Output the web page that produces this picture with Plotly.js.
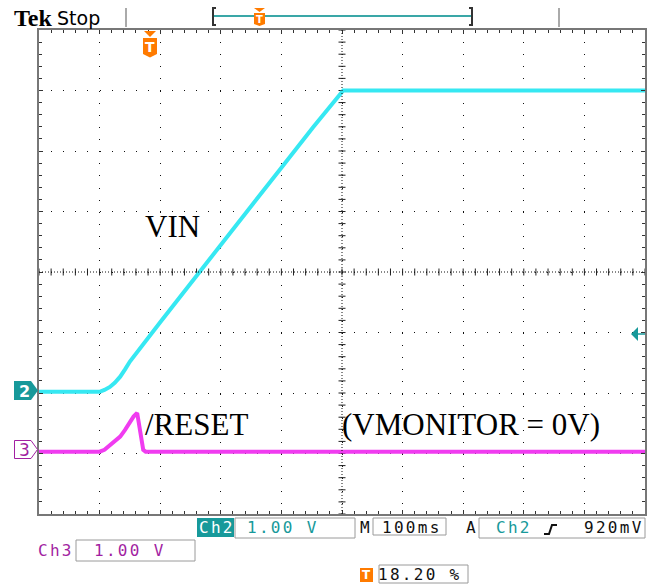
<!DOCTYPE html>
<html><head><meta charset="utf-8">
<script src="https://cdn.plot.ly/plotly-3.0.1.min.js"></script>
<style>html,body{margin:0;padding:0;background:#fff}#chart{width:654px;height:586px}</style>
</head><body><div id="chart"></div>
<script>
// ---- Data read from the scope capture ----
// Channel 2: VIN (volts) vs time (ms)
const ch2TimeMs = [0, 100, 108, 117, 125, 134, 142, 150, 200, 279, 337, 398, 452, 502, 1000];
const ch2Volts  = [0, 0, 0.03, 0.08, 0.15, 0.25, 0.37, 0.50, 1.15, 2.17, 2.90, 3.68, 4.37, 4.98, 4.98];
// Channel 3: /RESET (volts) vs time (ms)
const ch3TimeMs = [0, 100, 108, 117, 125, 134, 142, 150, 156, 162, 165, 169, 172, 176, 1000];
const ch3Volts  = [0, 0, 0.03, 0.10, 0.17, 0.25, 0.36, 0.50, 0.58, 0.64, 0.45, 0.15, 0.03, 0, 0];
// Scope settings
const ch2VoltsPerDiv = 1.0, ch2OffsetDiv = -1.98;
const ch3VoltsPerDiv = 1.0, ch3OffsetDiv = -2.97;
const timePerDivMs = 100;
const triggerLevelV = 0.92;
const labels = {vin: 'VIN', reset: '/RESET', note: '(VMONITOR = 0V)'};

// ---- Layout helpers (pixel -> paper) ----
const L = 39, R = 645, T = 30, B = 514;
const px = x => (x - L) / (R - L);
const py = y => (B - y) / (B - T);
const TEAL = '#17999a', CYAN = '#36e8f2', MAG = '#f03cf0', PURP = '#a21fa2', ORANGE = '#ff7b00';
const UI = 'DejaVu Sans Mono, monospace';
const sp = s => '<span style="letter-spacing:2.3px">' + s + '</span>';

// center-cross tick decoration (every 1/5 division)
const cxX = [], cxY = [], cyX = [], cyY = [];
for (let k = 0; k <= 50; k++) { cxX.push(k * timePerDivMs / 5); cxY.push(0); }
for (let k = 0; k <= 40; k++) { cyX.push(5 * timePerDivMs); cyY.push(-4 + k * 0.2); }

const traces = [
  {x: cxX, y: cxY, mode: 'markers', hoverinfo: 'skip', showlegend: false,
   marker: {symbol: 'line-ns', size: 5, line: {color: '#222', width: 1}}},
  {x: cyX, y: cyY, mode: 'markers', hoverinfo: 'skip', showlegend: false,
   marker: {symbol: 'line-ew', size: 5, line: {color: '#222', width: 1}}},
  {x: ch2TimeMs, y: ch2Volts.map(v => v / ch2VoltsPerDiv + ch2OffsetDiv), mode: 'lines',
   line: {color: CYAN, width: 4}, showlegend: false, name: 'Ch2'},
  {x: ch3TimeMs, y: ch3Volts.map(v => v / ch3VoltsPerDiv + ch3OffsetDiv), mode: 'lines',
   line: {color: MAG, width: 4}, showlegend: false, name: 'Ch3'}
];

function P(pts, close) {
  return 'M' + pts.map(p => px(p[0]) + ',' + py(p[1])).join('L') + (close ? 'Z' : '');
}
function rect(x0, y0, x1, y1, line, fill) {
  return {type: 'rect', xref: 'paper', yref: 'paper', x0: px(x0), x1: px(x1), y0: py(y0), y1: py(y1),
          line: line || {color: '#9a9a9a', width: 1}, fillcolor: fill || 'rgba(0,0,0,0)'};
}
function path(pts, close, line, fill) {
  return {type: 'path', xref: 'paper', yref: 'paper', path: P(pts, close),
          line: line || {width: 0}, fillcolor: fill || 'rgba(0,0,0,0)'};
}
function txt(text, x, y, size, color, family, extra) {
  return Object.assign({text: text, xref: 'paper', yref: 'paper', x: px(x), y: py(y), showarrow: false,
    xanchor: 'center', yanchor: 'middle', font: {size: size, color: color, family: family || UI}}, extra || {});
}

const shapes = [
  // center cross
  {type: 'line', xref: 'x', yref: 'y', x0: 500, x1: 500, y0: -4, y1: 4, line: {color: '#111', width: 1, dash: '1px,2px'}},
  {type: 'line', xref: 'x', yref: 'y', x0: 0, x1: 1000, y0: 0, y1: 0, line: {color: '#111', width: 1, dash: '1px,2px'}},
  // header separators
  path([[126, 8], [126, 27]], false, {color: '#aaa', width: 2}),
  path([[559, 8], [559, 27]], false, {color: '#aaa', width: 2}),
  // record bar
  path([[213, 16], [472, 16]], false, {color: '#3aa7a7', width: 2}),
  path([[216, 8], [213, 8], [213, 25], [216, 25]], false, {color: '#333', width: 2}),
  path([[469, 8], [472, 8], [472, 25], [469, 25]], false, {color: '#333', width: 2}),
  path([[254, 8], [265, 8], [259.5, 12]], true, {width: 0}, ORANGE),
  path([[254, 13], [265, 13], [265, 24], [259.5, 26], [254, 24]], true, {width: 0}, ORANGE),
  // trigger position marker on screen
  path([[144, 31], [156, 31], [150, 37]], true, {width: 0}, ORANGE),
  path([[143, 38], [157, 38], [157, 54], [150, 57.5], [143, 54]], true, {width: 0}, ORANGE),
  // channel ground markers
  path([[14, 381], [31, 381], [38, 390.5], [31, 400], [14, 400]], true, {width: 0}, TEAL),
  path([[14.5, 440.5], [31, 440.5], [37.5, 449.5], [31, 458.5], [14.5, 458.5]], true, {color: PURP, width: 1}, '#fff'),
  // trigger level arrow (right)
  path([[631, 334], [638, 327], [638, 341]], true, {width: 0}, TEAL),
  path([[638, 334], [645, 334]], false, {color: TEAL, width: 1.5}),
  // footer boxes
  rect(197, 518, 234, 537, {width: 0}, TEAL),
  rect(235, 518, 355, 538),
  rect(373, 518, 446, 535),
  rect(479, 518, 645, 538),
  rect(76, 540, 195, 561),
  rect(360, 568, 373, 582, {width: 0}, ORANGE),
  rect(379, 565, 468, 583),
  path([[544, 534], [549, 534], [552, 525], [557, 525]], false, {color: '#111', width: 2})
];

const annotations = [
  txt(labels.vin, 172.5, 226, 31, '#000', 'Liberation Serif, Times New Roman, serif'),
  txt(labels.reset, 196, 424, 31, '#000', 'Liberation Serif, Times New Roman, serif'),
  txt(labels.note, 471, 424, 31, '#000', 'Liberation Serif, Times New Roman, serif'),
  txt('<b>Tek</b>', 33, 18, 24, '#000', 'Liberation Serif, serif'),
  txt('Stop', 78, 18, 19, '#000', 'DejaVu Sans, sans-serif'),
  txt('<b>T</b>', 259.5, 19, 10, '#fff', 'DejaVu Sans, sans-serif'),
  txt('<b>T</b>', 150, 47, 14, '#fff', 'DejaVu Sans, sans-serif'),
  txt('<b>2</b>', 24, 391, 16, '#fff', 'DejaVu Sans, sans-serif'),
  txt('3', 24, 450, 17, PURP, 'DejaVu Sans, sans-serif'),
  txt(sp('Ch2'), 216.5, 527.5, 16, '#fff'),
  txt(sp('1.00 V'), 283, 527.5, 16, TEAL),
  txt('M', 364.5, 527.5, 16, '#111'),
  txt(sp('100ms'), 411.5, 527.5, 16, '#111'),
  txt('A', 471, 527.5, 16, '#111'),
  txt(sp('Ch2'), 514, 527.5, 16, TEAL),
  txt(sp('920mV'), 613.5, 527.5, 16, '#111'),
  txt(sp('Ch3'), 56, 550.5, 16, PURP),
  txt(sp('1.00 V'), 130, 550.5, 16, PURP),
  txt('<b>T</b>', 366.5, 575, 12, '#fff', 'DejaVu Sans, sans-serif'),
  txt(sp('18.20 %'), 420, 574.5, 16, '#111')
];

const axisCommon = {
  showline: true, linecolor: '#777', linewidth: 2, mirror: 'allticks',
  ticks: 'inside', ticklen: 4, tickcolor: '#333', tickwidth: 1,
  showticklabels: false, zeroline: false, fixedrange: true,
  showgrid: true, gridcolor: '#111', gridwidth: 1
};
const layout = {
  width: 654, height: 586, margin: {l: L, r: 654 - R, t: T, b: 586 - B},
  paper_bgcolor: '#fff', plot_bgcolor: '#fff', showlegend: false,
  xaxis: Object.assign({}, axisCommon, {range: [0, 10 * timePerDivMs], dtick: timePerDivMs, tick0: 0,
    griddash: '1px,11.12px',
    minor: {dtick: timePerDivMs / 5, ticks: 'inside', ticklen: 3, tickcolor: '#333', showgrid: false}}),
  yaxis: Object.assign({}, axisCommon, {range: [-4, 4], dtick: 1, tick0: 0,
    griddash: '1px,11.1px',
    minor: {dtick: 0.2, ticks: 'inside', ticklen: 3, tickcolor: '#333', showgrid: false}}),
  shapes: shapes, annotations: annotations
};
Plotly.newPlot('chart', traces, layout, {staticPlot: true, displayModeBar: false});
</script></body></html>
